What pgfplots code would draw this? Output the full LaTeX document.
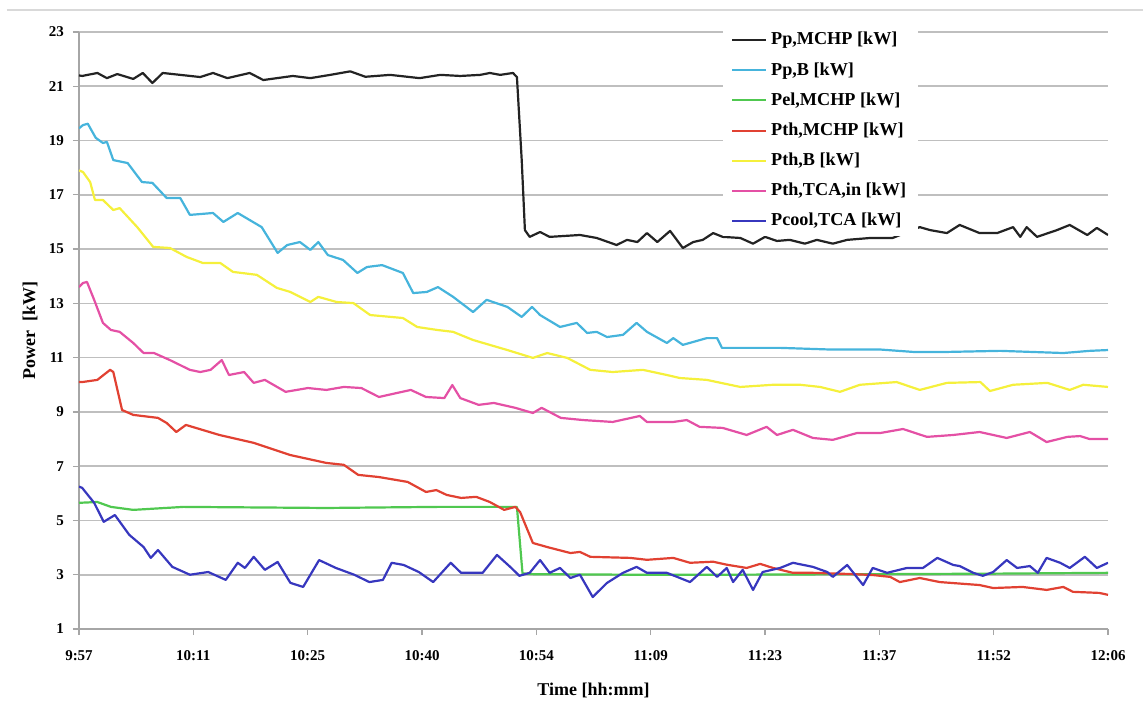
\documentclass[border=0pt]{standalone}
\usepackage{pgfplots}
\pgfplotsset{compat=1.18}
\usepackage{fontspec}
\setmainfont{Liberation Serif}
\definecolor{cBlack}{RGB}{35,35,35}
\definecolor{cBlue}{RGB}{70,180,220}
\definecolor{cGreen}{RGB}{80,200,80}
\definecolor{cRed}{RGB}{225,65,50}
\definecolor{cYellow}{RGB}{245,240,60}
\definecolor{cPink}{RGB}{228,80,165}
\definecolor{cNavy}{RGB}{55,55,190}
\begin{document}
\begin{tikzpicture}
\begin{axis}[
  at={(0,0)}, anchor=south west,
  scale only axis, width=514.5pt, height=298.5pt,
  xmin=0, xmax=129, ymin=1, ymax=23,
  ytick={1,3,...,23},
  xtick={0,14.333,28.667,43,57.333,71.667,86,100.333,114.667,129},
  xticklabels={9:57,10:11,10:25,10:40,10:54,11:09,11:23,11:37,11:52,12:06},
  ymajorgrids,
  major grid style={draw=black!25, line width=0.8pt},
  axis x line*=bottom, axis y line*=left,
  axis line style={draw=black!35, line width=0.8pt},
  tick style={draw=black!35, line width=0.6pt},
  tick align=outside, major tick length=3pt,
  /pgf/number format/assume math mode=true,
  tick label style={font=\bfseries\fontsize{7.5}{8}\selectfont},
  yticklabel style={xshift=-1pt},
  xticklabel style={yshift=-4pt},
  every axis x label/.style={at={(axis description cs:0.5,-0.1022)}, anchor=center, font=\bfseries\fontsize{9}{10}\selectfont},
  every axis y label/.style={at={(axis description cs:-0.0476,0.5)}, rotate=90, anchor=center, font=\bfseries\fontsize{9}{10}\selectfont},
  xlabel={Time [hh:mm]}, ylabel={Power\ \ [kW]},
  legend style={at={(axis cs:80.7,23.26)}, anchor=north west, draw=none, fill=white,
    font=\bfseries\fontsize{9.1}{10}\selectfont, row sep=3.25pt, inner xsep=4pt, inner ysep=1.5pt},
  legend cell align=left,
  legend image code/.code={\draw[#1, line width=1pt] (0pt,0pt) -- (17pt,0pt);},
  every axis plot/.append style={line width=1.1pt, line join=round},
]
% Pp,MCHP
\addplot[cBlack] coordinates {
(0,21.4)(0.4,21.38)(2.3,21.49)(3.5,21.30)(4.8,21.45)(6.8,21.27)(8.0,21.49)(9.2,21.12)(10.5,21.49)
(15.2,21.34)(16.8,21.49)(18.6,21.30)(21.4,21.49)(23.1,21.23)(26.8,21.38)(29.0,21.3)(31.5,21.42)
(34.0,21.55)(35.9,21.35)(39.0,21.42)(42.7,21.3)(45.3,21.42)(47.8,21.38)(50.3,21.42)(51.5,21.49)
(52.8,21.42)(54.4,21.49)(54.9,21.34)(55.5,18.28)(55.9,15.7)(56.5,15.45)(57.8,15.63)(59.0,15.45)
(62.8,15.52)(64.9,15.41)(67.4,15.15)(68.7,15.34)(70.0,15.26)(71.2,15.59)(72.5,15.26)(74.1,15.67)
(75.7,15.04)(77.0,15.26)(78.2,15.34)(79.5,15.59)(80.7,15.45)(82.9,15.41)(84.5,15.2)(86.0,15.45)
(87.5,15.3)(89.1,15.34)(91,15.2)(92.5,15.34)(94.5,15.2)(96.3,15.34)(99.2,15.41)(102.0,15.41)
(105.4,15.81)(106.7,15.7)(108.8,15.59)(110.4,15.89)(112.9,15.59)(115.1,15.59)(117.1,15.81)
(118.0,15.45)(118.8,15.81)(120.1,15.45)(122.6,15.7)(124.2,15.89)(126.4,15.52)(127.6,15.78)(129,15.52)
};
\addlegendentry{Pp,MCHP [kW]}
% Pp,B
\addplot[cBlue] coordinates {
(0,19.45)(0.5,19.57)(1.1,19.62)(2.1,19.1)(3.0,18.91)(3.5,18.95)(4.3,18.28)(6.1,18.17)(7.9,17.47)
(9.2,17.44)(11.0,16.88)(12.7,16.88)(13.9,16.26)(16.8,16.33)(18.1,16.0)(19.9,16.33)(22.9,15.81)
(24.9,14.86)(26.1,15.15)(27.7,15.26)(29.0,14.97)(30.0,15.26)(31.2,14.78)(33.1,14.6)(34.9,14.12)
(36.1,14.34)(38.0,14.41)(40.6,14.12)(41.9,13.38)(43.6,13.42)(45.0,13.6)(46.9,13.24)(49.4,12.68)
(51.1,13.13)(53.7,12.87)(55.5,12.5)(56.8,12.87)(57.8,12.57)(60.3,12.13)(62.4,12.28)(63.7,11.91)
(64.9,11.95)(66.2,11.76)(68.2,11.84)(69.9,12.28)(71.2,11.95)(73.7,11.54)(74.5,11.72)(75.7,11.47)
(78.7,11.72)(80.0,11.72)(80.6,11.36)(87.9,11.36)(94.1,11.3)(100.4,11.3)(104.6,11.21)(108.8,11.21)
(115.5,11.25)(123.4,11.17)(126.7,11.25)(129,11.28)
};
\addlegendentry{Pp,B [kW]}
% Pel,MCHP
\addplot[cGreen] coordinates {
(0,5.65)(2.3,5.68)(4.0,5.5)(6.8,5.39)(13.1,5.5)(31.0,5.46)(45,5.5)(52.9,5.5)(54.9,5.5)
(55.6,3.05)(57,3.02)(70,3.0)(80,3.0)(100,3.02)(115,3.04)(129,3.07)
};
\addlegendentry{Pel,MCHP [kW]}
% Pth,MCHP
\addplot[cRed] coordinates {
(0,10.1)(0.4,10.1)(2.3,10.18)(3.9,10.55)(4.3,10.47)(5.4,9.07)(6.8,8.89)(9.9,8.78)(11.0,8.59)
(12.2,8.26)(13.4,8.52)(17.6,8.15)(21.9,7.86)(26.5,7.41)(31.0,7.12)(33.2,7.05)(35.0,6.68)(37.6,6.6)
(41.2,6.42)(43.5,6.05)(44.8,6.12)(46.1,5.94)(47.9,5.83)(49.8,5.87)(51.5,5.68)(53.3,5.39)(54.7,5.5)
(55.3,5.31)(56.9,4.17)(58.7,4.02)(61.6,3.8)(62.8,3.84)(64.1,3.66)(69.1,3.62)(71.2,3.55)(74.5,3.62)
(76.6,3.44)(79.5,3.48)(81.2,3.37)(83.7,3.25)(85.4,3.4)(87.0,3.25)(89.5,3.07)(92.0,3.07)(96.3,3.03)
(99.5,2.99)(101.7,2.92)(102.9,2.73)(105.4,2.88)(107.9,2.73)(112.9,2.62)(114.6,2.51)(118.3,2.55)
(121.3,2.44)(123.4,2.55)(124.6,2.37)(127.9,2.33)(129,2.26)
};
\addlegendentry{Pth,MCHP [kW]}
% Pth,B
\addplot[cYellow] coordinates {
(0,17.9)(0.5,17.84)(1.4,17.47)(2.0,16.81)(3.0,16.81)(4.3,16.44)(5.1,16.51)(7.3,15.81)(9.3,15.08)
(11.4,15.04)(13.5,14.71)(15.5,14.49)(17.7,14.49)(19.3,14.16)(22.3,14.05)(24.8,13.57)(26.5,13.42)
(29.0,13.05)(30.0,13.24)(32.3,13.05)(34.4,13.01)(36.5,12.57)(40.6,12.46)(42.4,12.13)(44.9,12.02)
(46.9,11.95)(49.4,11.65)(53.7,11.28)(56.9,10.99)(58.7,11.17)(61.2,10.99)(64.1,10.55)(66.9,10.47)
(70.7,10.55)(73.7,10.36)(75.3,10.25)(78.7,10.18)(81.6,10.0)(82.9,9.92)(87.0,10.0)(90.4,10.0)
(92.9,9.92)(95.4,9.74)(97.9,10.0)(102.5,10.1)(105.4,9.81)(108.8,10.07)(113.0,10.1)(114.2,9.77)
(117.1,10.0)(121.4,10.07)(124.2,9.81)(125.9,10.0)(129,9.92)
};
\addlegendentry{Pth,B [kW]}
% Pth,TCA,in
\addplot[cPink] coordinates {
(0,13.6)(0.5,13.75)(1.0,13.79)(1.9,13.13)(3.0,12.28)(4.0,12.02)(5.1,11.95)(6.8,11.54)(8.1,11.17)
(9.4,11.17)(11.4,10.91)(13.9,10.55)(15.2,10.47)(16.5,10.55)(17.9,10.91)(18.8,10.36)(20.7,10.47)
(21.9,10.07)(23.3,10.18)(25.9,9.74)(28.7,9.88)(31.0,9.81)(33.2,9.92)(35.4,9.88)(37.6,9.55)
(39.9,9.7)(41.6,9.81)(43.5,9.55)(45.8,9.51)(46.8,9.99)(47.8,9.51)(50.1,9.26)(52.0,9.33)(54.7,9.15)
(56.9,8.96)(58.0,9.15)(60.4,8.78)(63.2,8.7)(66.9,8.63)(70.3,8.85)(71.2,8.63)(74.5,8.63)(76.2,8.7)
(77.8,8.45)(80.7,8.41)(83.7,8.15)(86.2,8.45)(87.5,8.15)(89.5,8.34)(92.0,8.04)(94.5,7.97)(97.5,8.22)
(100.4,8.22)(103.3,8.37)(106.3,8.08)(109.6,8.15)(112.9,8.26)(116.3,8.04)(119.2,8.26)(121.3,7.89)
(123.9,8.08)(125.5,8.11)(126.7,8.0)(129,8.0)
};
\addlegendentry{Pth,TCA,in [kW]}
% Pcool,TCA
\addplot[cNavy] coordinates {
(0,6.25)(0.4,6.2)(1.9,5.65)(3.1,4.95)(4.5,5.2)(6.3,4.47)(8.1,4.02)(9.0,3.62)(9.9,3.91)(11.7,3.29)
(13.9,3.0)(16.2,3.1)(18.4,2.81)(19.9,3.44)(20.8,3.25)(21.9,3.66)(23.3,3.18)(24.9,3.47)(26.5,2.7)
(28.1,2.55)(30.1,3.54)(32.2,3.25)(34.5,3.0)(36.4,2.73)(38.1,2.81)(39.2,3.44)(40.7,3.36)(42.6,3.1)
(44.4,2.73)(46.6,3.44)(47.9,3.07)(50.6,3.07)(52.4,3.73)(54.2,3.25)(55.2,2.96)(56.5,3.07)(57.8,3.54)
(59.0,3.07)(60.3,3.25)(61.6,2.88)(62.8,3.0)(64.4,2.18)(66.2,2.7)(68.2,3.07)(69.9,3.29)(71.2,3.07)
(73.7,3.07)(76.6,2.73)(78.7,3.29)(80.0,2.92)(81.2,3.25)(82.0,2.73)(83.2,3.18)(84.5,2.44)(85.7,3.1)
(87.9,3.25)(89.5,3.44)(92.0,3.29)(93.8,3.1)(94.5,2.92)(96.3,3.36)(98.3,2.62)(99.5,3.25)(101.3,3.07)
(103.8,3.25)(105.8,3.25)(107.6,3.62)(109.6,3.36)(110.4,3.32)(112.1,3.07)(113.3,2.96)(114.6,3.1)
(116.3,3.54)(117.6,3.25)(119.2,3.32)(120.2,3.07)(121.3,3.62)(123.0,3.44)(124.2,3.25)(126.1,3.66)
(127.6,3.25)(129,3.44)
};
\addlegendentry{Pcool,TCA [kW]}
\end{axis}
\draw[black!15, line width=0.8pt] (-36pt,309.5pt) -- (532pt,309.5pt);
\pgfresetboundingbox
\path (-39.5pt,-39pt) rectangle (532pt,314.5pt);
\end{tikzpicture}
\end{document}
